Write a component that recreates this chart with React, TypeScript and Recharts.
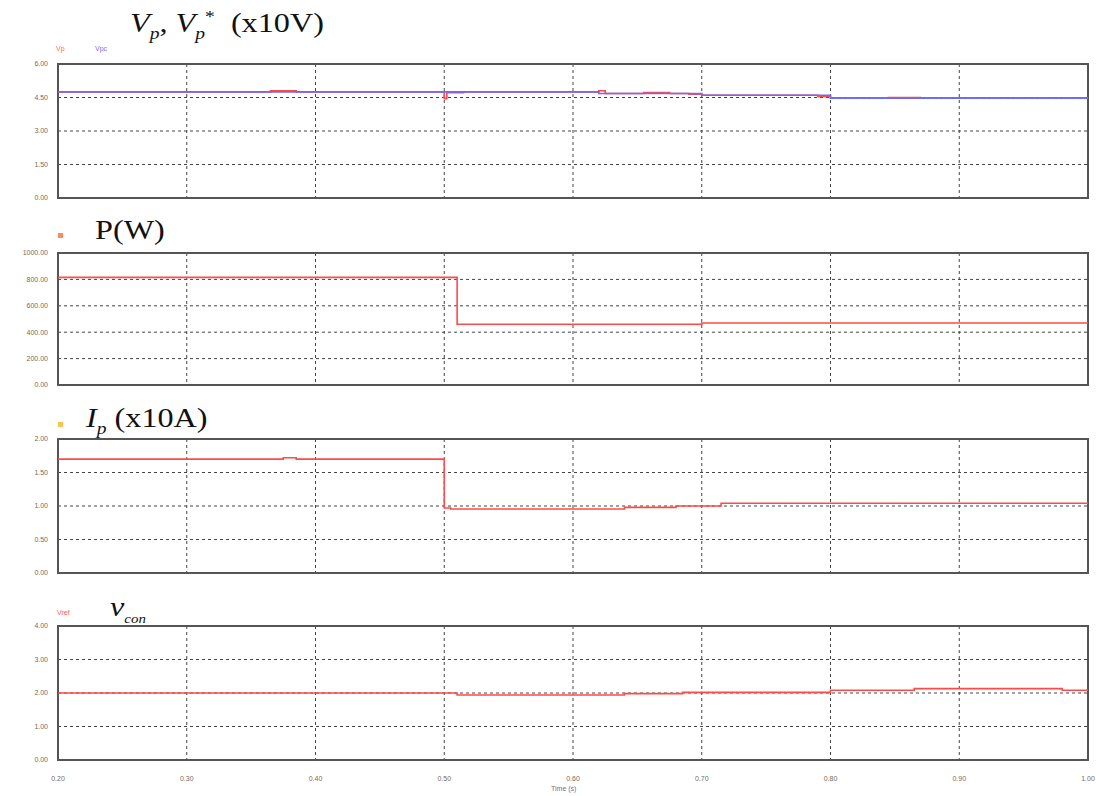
import React from 'react';
import { LineChart, Line, XAxis, YAxis, CartesianGrid, ReferenceArea } from 'recharts';

// time breakpoints (s) and step values
const vpcTimes = [0.2, 0.62, 0.7, 0.8, 1.0];
const vpcValues = [4.75, 4.68, 4.6, 4.47, 4.47];

const vpTimes = [0.2, 0.365, 0.385, 0.5, 0.502, 0.515, 0.62, 0.625, 0.655, 0.675, 0.69, 0.7, 0.79, 0.8, 0.845, 0.87, 1.0];
const vpValues = [4.75, 4.8, 4.75, 4.45, 4.72, 4.75, 4.8, 4.68, 4.72, 4.68, 4.65, 4.6, 4.55, 4.47, 4.5, 4.47, 4.47];

const pTimes = [0.2, 0.51, 0.7, 1.0];
const pValues = [815, 460, 470, 470];

const ipTimes = [0.2, 0.375, 0.385, 0.5, 0.505, 0.64, 0.68, 0.715, 1.0];
const ipValues = [1.7, 1.72, 1.7, 0.97, 0.955, 0.98, 1.0, 1.04, 1.04];

const vconTimes = [0.2, 0.51, 0.64, 0.685, 0.8, 0.865, 0.98, 1.0];
const vconValues = [2.0, 1.94, 1.98, 2.02, 2.08, 2.13, 2.08, 2.08];

const timeTicks = [0.2, 0.3, 0.4, 0.5, 0.6, 0.7, 0.8, 0.9, 1.0];
const vpTicks = [0, 1.5, 3, 4.5, 6];
const pTicks = [0, 200, 400, 600, 800, 1000];
const ipTicks = [0, 0.5, 1, 1.5, 2];
const vconTicks = [0, 1, 2, 3, 4];

const toRows = (ts: number[], vs: number[]) => ts.map((t, i) => ({ t, v: vs[i] }));

const RED = '#ff4a4a';
const BLUE = '#6b6bff';
const tickStyle = { fontSize: 7, fill: '#7a6a5a', fontFamily: 'Liberation Sans, Arial, sans-serif' };

interface PanelProps {
  top: number;
  height: number;
  margin: { top: number; bottom: number };
  ticks: number[];
  series: { rows: { t: number; v: number }[]; color: string }[];
  showX?: boolean;
}

function Panel({ top, height, margin, ticks, series, showX }: PanelProps) {
  const yMax = ticks[ticks.length - 1];
  return (
    <div style={{ position: 'absolute', left: 0, top }}>
      <LineChart width={1096} height={height} margin={{ top: margin.top, bottom: margin.bottom, left: 8, right: 8 }}>
        <CartesianGrid stroke="#444" strokeDasharray="3 3" />
        <XAxis
          type="number"
          dataKey="t"
          domain={[0.2, 1.0]}
          ticks={timeTicks}
          hide={!showX}
          height={30}
          axisLine={false}
          tickLine={false}
          tickMargin={10}
          tick={tickStyle}
          tickFormatter={(v: number) => v.toFixed(2)}
          allowDataOverflow
        />
        <YAxis
          type="number"
          domain={[0, yMax]}
          ticks={ticks}
          width={50}
          axisLine={false}
          tickLine={false}
          tickMargin={4}
          tick={tickStyle}
          tickFormatter={(v: number) => v.toFixed(2)}
        />
        <ReferenceArea x1={0.2} x2={1.0} y1={0} y2={yMax} fill="none" stroke="#555" strokeWidth={2} />
        {series.map((s, i) => (
          <Line
            key={i}
            data={s.rows}
            dataKey="v"
            type="stepAfter"
            stroke={s.color}
            strokeWidth={1.6}
            dot={false}
            isAnimationActive={false}
          />
        ))}
      </LineChart>
    </div>
  );
}

const serif: React.CSSProperties = {
  position: 'absolute',
  fontFamily: 'Liberation Serif, DejaVu Serif, serif',
  color: '#111',
  whiteSpace: 'nowrap',
  fontSize: 28,
  transform: 'scaleX(1.15)',
  transformOrigin: 'left top',
};
const tiny: React.CSSProperties = { position: 'absolute', fontFamily: 'Liberation Sans, Arial, sans-serif', fontSize: 7 };
const sub: React.CSSProperties = { fontSize: 17, fontStyle: 'italic' };

export default function App() {
  return (
    <div style={{ position: 'absolute', left: 0, top: 0, width: 1096, height: 796, background: '#fff', overflow: 'hidden' }}>
      <Panel
        top={0}
        height={205}
        margin={{ top: 64, bottom: 7 }}
        ticks={vpTicks}
        series={[
          { rows: toRows(vpTimes, vpValues), color: RED },
          { rows: toRows(vpcTimes, vpcValues), color: BLUE },
        ]}
      />
      <Panel top={205} height={190} margin={{ top: 48, bottom: 10 }} ticks={pTicks} series={[{ rows: toRows(pTimes, pValues), color: RED }]} />
      <Panel top={395} height={185} margin={{ top: 44, bottom: 7 }} ticks={ipTicks} series={[{ rows: toRows(ipTimes, ipValues), color: RED }]} />
      <Panel top={580} height={216} margin={{ top: 46, bottom: 6 }} ticks={vconTicks} series={[{ rows: toRows(vconTimes, vconValues), color: RED }]} showX />

      {/* panel titles */}
      <div style={{ ...serif, left: 130, top: 7 }}>
        <i>V</i><sub style={sub}>p</sub>, <i>V</i><sub style={sub}>p</sub><sup style={{ fontSize: 17 }}>*</sup>&nbsp; (x10V)
      </div>
      <div style={{ ...serif, left: 95, top: 214 }}>P(W)</div>
      <div style={{ ...serif, left: 86, top: 402 }}>
        <i>I</i><sub style={sub}>p</sub> (x10A)
      </div>
      <div style={{ ...serif, left: 110, top: 591 }}>
        <i>v</i><sub style={{ fontSize: 13, fontStyle: 'italic' }}>con</sub>
      </div>

      {/* legend marks */}
      <div style={{ ...tiny, left: 56, top: 45, color: '#ff6a4a' }}>Vp</div>
      <div style={{ ...tiny, left: 95, top: 45, color: '#7a6aff' }}>Vpc</div>
      <div style={{ position: 'absolute', left: 58, top: 233, width: 5, height: 5, background: '#ff8a5a' }} />
      <div style={{ position: 'absolute', left: 58, top: 422, width: 5, height: 5, background: '#ffc24a' }} />
      <div style={{ ...tiny, left: 57, top: 609, color: '#ff5a5a' }}>Vref</div>
      <div style={{ ...tiny, left: 551, top: 785, color: '#7a6a8a' }}>Time (s)</div>
    </div>
  );
}
